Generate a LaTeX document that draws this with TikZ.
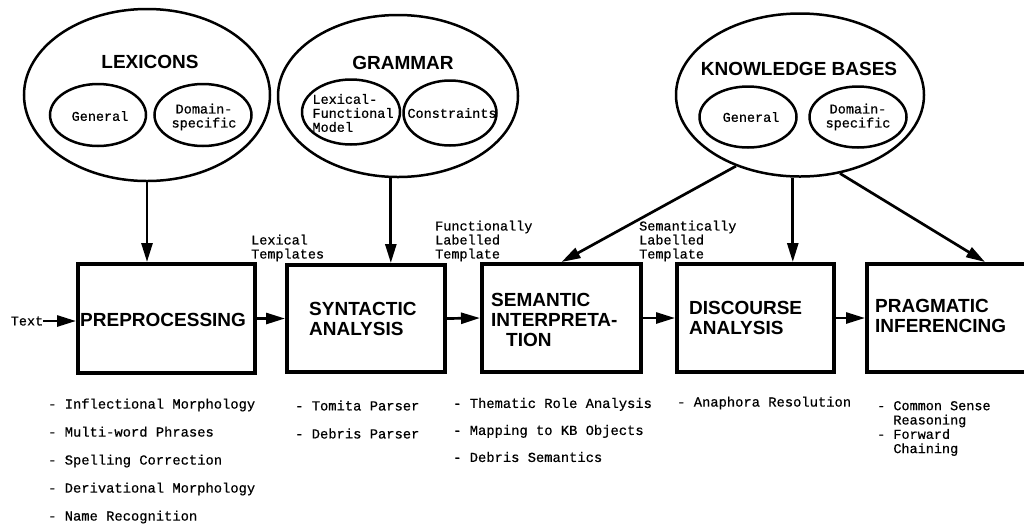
\documentclass[tikz,border=0pt]{standalone}
\usepackage{fontspec}
\setmainfont{Liberation Sans}
\newfontfamily\hvfont{Liberation Sans}
\newfontfamily\courfont[FakeBold=0.6]{Liberation Mono}
\usetikzlibrary{shapes.geometric,arrows.meta}
\begin{document}
\begin{tikzpicture}[x=1pt,y=-1pt,
  bigtitle/.style={font=\hvfont\bfseries\fontsize{19}{20}\selectfont, inner sep=0pt},
  boxtxt/.style={font=\hvfont\bfseries\fontsize{19}{20}\selectfont, align=left, inner sep=0pt, anchor=west},
  mono/.style={font=\courfont\fontsize{13.5}{14}\selectfont, align=left, inner sep=0pt},
  listtxt/.style={font=\courfont\fontsize{13.8}{28}\selectfont, align=left, inner sep=0pt, anchor=west},
  bigell/.style={draw, ellipse, line width=2.5pt, inner sep=0pt},
  smallell/.style={draw, ellipse, line width=2.5pt, inner sep=0pt},
  stage/.style={draw, line width=4pt, inner sep=0pt},
  flow/.style={line width=2.7pt, -{Triangle[length=19pt,width=11pt]}},
]
\useasboundingbox (0,0) rectangle (1024,523);

% knowledge sources
\node[bigell, minimum width=246pt, minimum height=172pt] (lex) at (147,95) {};
\node[bigell, minimum width=240pt, minimum height=162pt] (gram) at (398,96) {};
\node[bigell, minimum width=248pt, minimum height=163pt] (kb) at (800,95) {};

\node[bigtitle] (lextitle) at (150,62) {LEXICONS};
\node[bigtitle] (gramtitle) at (403,63) {GRAMMAR};
\node[bigtitle] (kbtitle) at (799,69) {KNOWLEDGE BASES};

\node[smallell, minimum width=96pt, minimum height=62pt] (lexgen) at (98,115) {};
\node[smallell, minimum width=97pt, minimum height=62pt] (lexdom) at (203,115) {};
\node[smallell, minimum width=98pt, minimum height=65pt] (lfm) at (351,112) {};
\node[smallell, minimum width=93pt, minimum height=65pt] (cons) at (450,113) {};
\node[smallell, minimum width=97pt, minimum height=61pt] (kbgen) at (748,117) {};
\node[smallell, minimum width=97pt, minimum height=61pt] (kbdom) at (858,117) {};

\node[mono] (lexgentxt) at (100,116) {General};
\node[mono, align=center] (lexdomtxt) at (204,117) {Domain-\\specific};
\node[mono] (lfmtxt) at (353,113) {Lexical-\\Functional\\Model};
\node[mono] (constxt) at (452,113) {Constraints};
\node[mono] (kbgentxt) at (751,117) {General};
\node[mono, align=center] (kbdomtxt) at (858,117) {Domain-\\specific};

% processing stages
\node[stage, minimum width=177pt, minimum height=109pt] (pre) at (166.5,318.5) {};
\node[stage, minimum width=158pt, minimum height=107pt] (syn) at (366,318.5) {};
\node[stage, minimum width=159pt, minimum height=108pt] (sem) at (561.5,318) {};
\node[stage, minimum width=157pt, minimum height=108pt] (dis) at (755.5,318) {};
\node[stage, minimum width=163pt, minimum height=108pt] (pra) at (948.5,318) {};

\node[boxtxt] (pretxt) at (80,320) {PREPROCESSING};
\node[boxtxt] (syntxt) at (309,318.5) {SYNTACTIC\\ANALYSIS};
\node[boxtxt] (semtxt) at (491,320) {SEMANTIC\\INTERPRETA-\\\hspace*{15pt}TION};
\node[boxtxt] (distxt) at (689,317.5) {DISCOURSE\\ANALYSIS};
\node[boxtxt] (pratxt) at (875,316) {PRAGMATIC\\INFERENCING};

% input
\node[mono] (txt) at (27,321) {Text};

% flow labels
\node[mono, anchor=west] (lt) at (251,248) {Lexical\\Templates};
\node[mono, anchor=west] (flt) at (435,241) {Functionally\\Labelled\\Template};
\node[mono, anchor=west] (slt) at (639,241) {Semantically\\Labelled\\Template};

% connectors
\draw[flow] (txt.east) -- (pre.west |- txt.east);
\draw[flow] (pre.east) -- (syn.west);
\draw[flow] (syn.east) -- (sem.west);
\draw[flow] (sem.east) -- (dis.west);
\draw[flow] (dis.east) -- (pra.west);

\draw[flow] (lex.south) -- (lex.south |- pre.north);
\draw[flow] (gram.265) -- (gram.265 |- syn.north);
\draw[flow] (kb.228) -- (sem.north);
\draw[flow] (kb.265) -- (kb.265 |- dis.north);
\draw[flow] (kb.297) -- ([xshift=120pt]pra.north west);

% component lists
\node[listtxt] (prelist) at (48,461) {- Inflectional Morphology\\- Multi-word Phrases\\- Spelling Correction\\- Derivational Morphology\\- Name Recognition};
\node[listtxt] (synlist) at (295,419.5) {- Tomita Parser\\- Debris Parser};
\node[listtxt, font=\courfont\fontsize{13.8}{27}\selectfont] (semlist) at (453,430) {- Thematic Role Analysis\\- Mapping to KB Objects\\- Debris Semantics};
\node[listtxt] (dislist) at (677,403) {- Anaphora Resolution};
\node[mono, anchor=west, font=\courfont\fontsize{13.5}{14.3}\selectfont] (pralist) at (877,428.5) {- Common Sense\\\hphantom{- }Reasoning\\- Forward\\\hphantom{- }Chaining};
\end{tikzpicture}
\end{document}
